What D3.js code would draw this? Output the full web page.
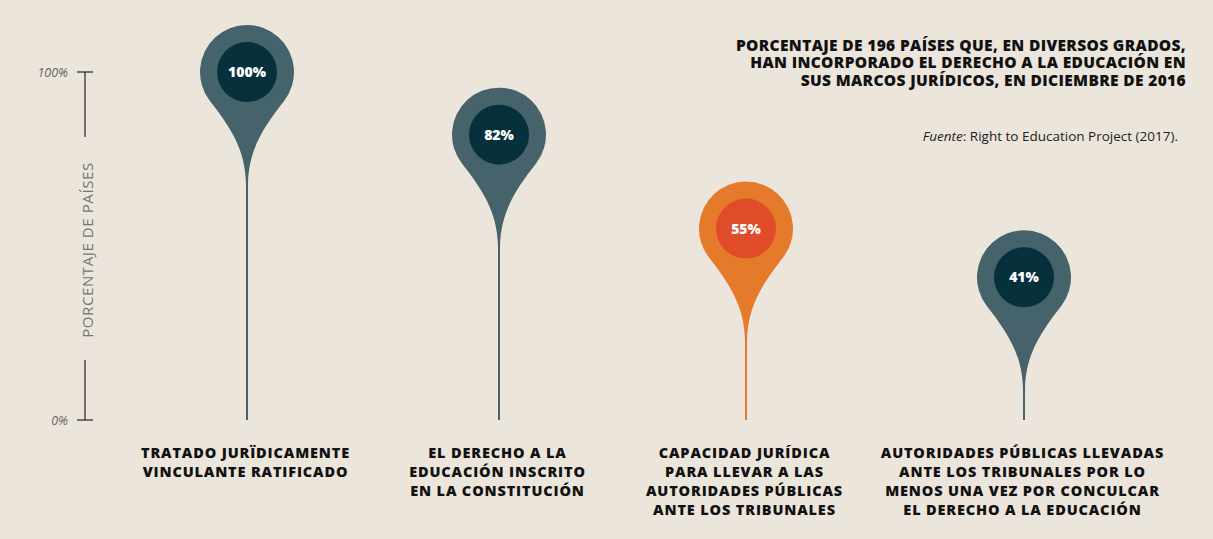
<!DOCTYPE html>
<html><head><meta charset="utf-8">
<script src="https://cdn.jsdelivr.net/npm/d3@7"></script>
<style>
html,body{margin:0;padding:0;background:#ebe5dc;}
svg{display:block;}
</style></head>
<body>
<script>
const categories = [
  ["TRATADO JURÏDICAMENTE","VINCULANTE RATIFICADO"],
  ["EL DERECHO A LA","EDUCACIÓN INSCRITO","EN LA CONSTITUCIÓN"],
  ["CAPACIDAD JURÍDICA","PARA LLEVAR A LAS","AUTORIDADES PÚBLICAS","ANTE LOS TRIBUNALES"],
  ["AUTORIDADES PÚBLICAS LLEVADAS","ANTE LOS TRIBUNALES POR LO","MENOS UNA VEZ POR CONCULCAR","EL DERECHO A LA EDUCACIÓN"]
];
const values = [100, 82, 55, 41];
const highlight = [false, false, true, false];
const yTicks = [0, 100];
const titleLines = ["PORCENTAJE DE 196 PAÍSES QUE, EN DIVERSOS GRADOS,","HAN INCORPORADO EL DERECHO A LA EDUCACIÓN EN","SUS MARCOS JURÍDICOS, EN DICIEMBRE DE 2016"];

const W = 1213, H = 539;
const F = "'Open Sans', sans-serif";
const svg = d3.select("body").append("svg").attr("width", W).attr("height", H);
svg.append("rect").attr("width", W).attr("height", H).attr("fill", "#ebe5dc");

const y = d3.scaleLinear().domain([0, 100]).range([420, 72]);
const xPos = [247, 499, 746, 1024];

// Y axis
const ax = 85;
const g = svg.append("g");
g.append("line").attr("x1", ax).attr("x2", ax).attr("y1", y(100)).attr("y2", 137).attr("stroke", "#222").attr("stroke-width", 1.2);
g.append("line").attr("x1", ax).attr("x2", ax).attr("y1", 360).attr("y2", y(0)).attr("stroke", "#222").attr("stroke-width", 1.2);
yTicks.forEach(t => {
  g.append("line").attr("x1", ax - 8).attr("x2", ax + 8).attr("y1", y(t)).attr("y2", y(t)).attr("stroke", "#222").attr("stroke-width", 1.2);
  g.append("text").attr("x", 68).attr("y", y(t) + 4.5).attr("text-anchor", "end")
    .attr("font-family", F).attr("font-style", "italic").attr("font-size", 12.5)
    .attr("fill", "#666").text(t + "%");
});
g.append("text").attr("transform", `translate(92.5,250) rotate(-90)`).attr("text-anchor", "middle")
  .attr("font-family", F).attr("font-size", 15).attr("letter-spacing", 0.6)
  .attr("fill", "#777").text("PORCENTAJE DE PAÍSES");

// Title
const tt = svg.append("text").attr("text-anchor", "end").attr("font-family", F)
  .attr("font-weight", 800).attr("font-size", 15.5).attr("letter-spacing", 0.35).attr("fill", "#111");
titleLines.forEach((l, i) => tt.append("tspan").attr("x", 1186).attr("y", 50.5 + i * 17.6).text(l));
const src = svg.append("text").attr("text-anchor", "end").attr("x", 1178).attr("y", 140.5)
  .attr("font-family", F).attr("font-size", 13.5).attr("fill", "#222");
src.append("tspan").attr("font-style", "italic").text("Fuente");
src.append("tspan").text(": Right to Education Project (2017).");

// Pins
const R = 47, r = 30, L = 112;
function pinPath(cx, cy) {
  const a = 38 * Math.PI / 180;
  const lx = cx - R * Math.cos(a), ly = cy + R * Math.sin(a);
  const rx = cx + R * Math.cos(a);
  const tx = Math.sin(a), ty = Math.cos(a);
  const k = 32;
  const tipY = cy + L;
  return `M${cx - 1},${tipY}` +
    `C${cx - 1.5},${tipY - 35} ${lx + k * tx},${ly + k * ty} ${lx},${ly}` +
    `A${R},${R} 0 1 1 ${rx},${ly}` +
    `C${rx - k * tx},${ly + k * ty} ${cx + 1.5},${tipY - 35} ${cx + 1},${tipY}Z`;
}
values.forEach((v, i) => {
  const cx = xPos[i], cy = y(v);
  const outer = highlight[i] ? "#e67a2b" : "#46626b";
  const inner = highlight[i] ? "#e04b29" : "#06313c";
  const pg = svg.append("g");
  pg.append("line").attr("x1", cx).attr("x2", cx).attr("y1", cy + L - 5).attr("y2", y(0))
    .attr("stroke", outer).attr("stroke-width", 2);
  pg.append("path").attr("d", pinPath(cx, cy)).attr("fill", outer);
  pg.append("circle").attr("cx", cx).attr("cy", cy).attr("r", r).attr("fill", inner);
  pg.append("text").attr("x", cx).attr("y", cy + 5).attr("text-anchor", "middle")
    .attr("font-family", F).attr("font-weight", 800).attr("font-size", 14)
    .attr("fill", "#fff").text(v + "%");
  const lt = svg.append("text").attr("text-anchor", "middle").attr("font-family", F)
    .attr("font-weight", 800).attr("font-size", 14.5).attr("letter-spacing", 0.85).attr("fill", "#111");
  categories[i].forEach((l, j) => lt.append("tspan").attr("x", cx - 1.5).attr("y", 457.5 + j * 19.1).text(l));
});
</script>
</body></html>
